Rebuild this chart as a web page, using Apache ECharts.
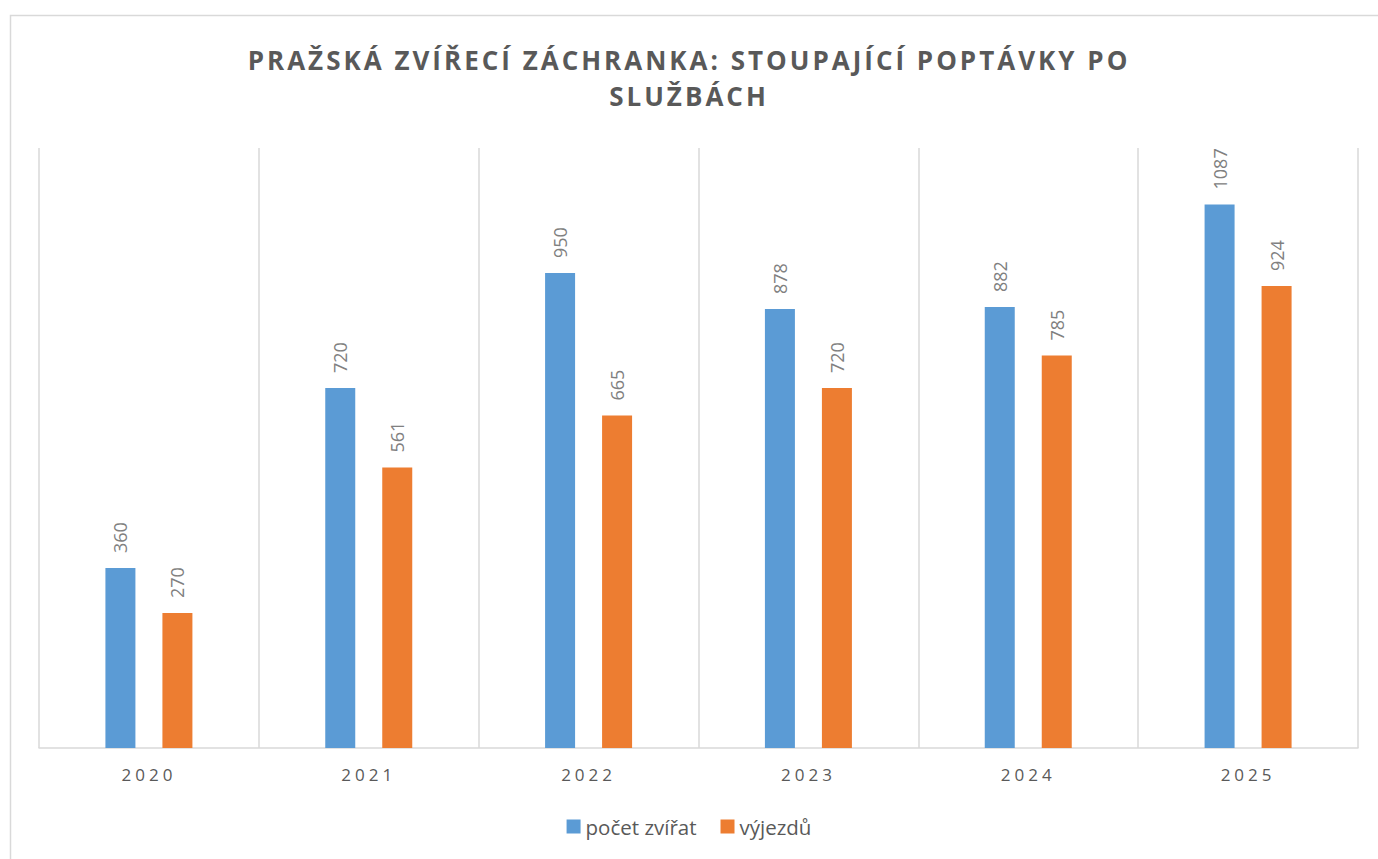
<!DOCTYPE html>
<html>
<head>
<meta charset="utf-8">
<script src="https://cdn.jsdelivr.net/npm/echarts@6/dist/echarts.min.js"></script>
<style>
  html, body { margin: 0; padding: 0; background: #fff; }
  #chart { width: 1378px; height: 859px; }
  /* Excel-like letter spacing for the title and the year labels */
  #chart svg text[style*="26px"] { letter-spacing: 3px; }
  #chart svg text[style*="17px"] { letter-spacing: 4px; }
</style>
</head>
<body>
<div id="chart"></div>
<script>
const years = ['2020', '2021', '2022', '2023', '2024', '2025'];
const pocetZvirat = [360, 720, 950, 878, 882, 1087];
const vyjezdu = [270, 561, 665, 720, 785, 924];

const labelStyle = {
  show: true,
  position: 'top',
  rotate: 90,
  align: 'left',
  verticalAlign: 'middle',
  distance: 15,
  color: '#808080',
  fontSize: 18,
  fontFamily: 'Open Sans'
};

const chart = echarts.init(document.getElementById('chart'), null, { renderer: 'svg' });
chart.setOption({
  animation: false,
  textStyle: { fontFamily: 'Open Sans' },
  title: {
    text: 'PRAŽSKÁ ZVÍŘECÍ ZÁCHRANKA: STOUPAJÍCÍ POPTÁVKY PO\nSLUŽBÁCH',
    left: 'center',
    top: 37,
    textStyle: {
      color: '#595959',
      fontSize: 26,
      fontWeight: 'bold',
      lineHeight: 36,
      fontFamily: 'Open Sans'
    }
  },
  graphic: [{
    type: 'rect',
    shape: { x: 10.5, y: 15.5, width: 1400, height: 900 },
    style: { fill: 'none', stroke: '#d9d9d9', lineWidth: 1.5 },
    silent: true
  }],
  legend: {
    bottom: 17,
    left: 'center',
    icon: 'rect',
    itemWidth: 14,
    itemHeight: 14,
    itemGap: 24,
    textStyle: { color: '#595959', fontSize: 20.5, fontFamily: 'Open Sans' },
    data: ['počet zvířat', 'výjezdů']
  },
  grid: { left: 39, right: 20, top: 148, bottom: 111 },
  xAxis: {
    type: 'category',
    data: years,
    axisLine: { lineStyle: { color: '#d9d9d9', width: 1.5 } },
    axisTick: { show: false },
    axisLabel: { color: '#595959', fontSize: 17, margin: 18, fontFamily: 'Open Sans' },
    splitLine: { show: true, lineStyle: { color: '#d9d9d9', width: 1.5 } }
  },
  yAxis: {
    type: 'value',
    min: 0,
    max: 1200,
    show: false,
    splitLine: { show: false }
  },
  series: [
    {
      name: 'počet zvířat',
      type: 'bar',
      data: pocetZvirat,
      barWidth: 30,
      barGap: '90%',
      itemStyle: { color: '#5b9bd5' },
      label: labelStyle
    },
    {
      name: 'výjezdů',
      type: 'bar',
      data: vyjezdu,
      barWidth: 30,
      barGap: '90%',
      itemStyle: { color: '#ed7d31' },
      label: labelStyle
    }
  ]
});
</script>
</body>
</html>
